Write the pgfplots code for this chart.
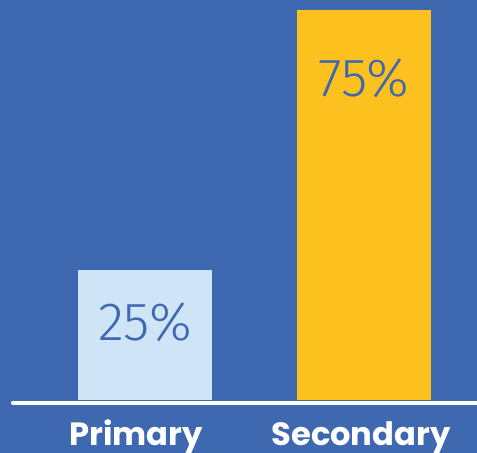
\documentclass[border=0pt]{standalone}
\usepackage{pgfplots}
\pgfplotsset{compat=1.18}
\usepackage{fontspec}
\setmainfont{Poppins}
\newfontfamily\labfont{Poppins}
\newfontfamily\valfont{Fira Sans}[UprightFont={* Light}]
\definecolor{bgblue}{HTML}{3E68AF}
\definecolor{lightbar}{HTML}{CFE4F7}
\definecolor{yellowbar}{HTML}{FCC11E}
\begin{document}
\begin{tikzpicture}
\fill[bgblue] (0,0) rectangle (477bp,453bp);
\begin{axis}[
  at={(0,0)}, anchor=south west,
  scale only axis, width=477bp, height=453bp,
  xmin=-0.662, xmax=1.516, ymin=-10.19, ymax=76.92,
  clip=false,
  /pgf/number format/assume math mode=true,
  axis line style={draw=none},
  tick style={draw=none},
  ytick=\empty,
  xtick={-0.041,0.986},
  xticklabels={Primary,Secondary},
  xticklabel style={anchor=base, yshift=8bp, text=white, font=\labfont\bfseries\fontsize{32.3}{32.3}\selectfont},
  nodes near coords={\pgfmathprintnumber{\pgfplotspointmeta}\%},
  every node near coord/.append style={anchor=center, text=bgblue, font=\valfont\fontsize{54}{54}\selectfont},
]
\addplot[ybar, bar width=134bp, fill=lightbar, draw=none, every node near coord/.append style={yshift=-52bp}] coordinates {(0,25)};
\addplot[ybar, bar width=134bp, fill=yellowbar, draw=none, every node near coord/.append style={yshift=-68bp}] coordinates {(1,75)};
\draw[white, line width=4.5bp, line cap=round] (axis cs:-0.602,-0.55) -- (axis cs:1.516,-0.55);
\end{axis}
\pgfresetboundingbox
\useasboundingbox (0,0) rectangle (477bp,453bp);
\end{tikzpicture}
\end{document}
